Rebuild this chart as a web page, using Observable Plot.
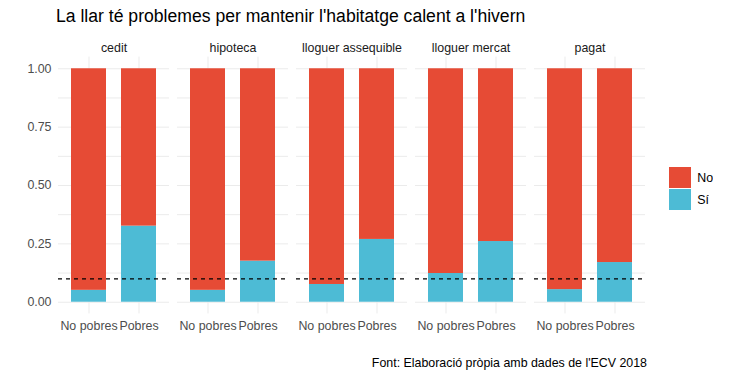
<!DOCTYPE html>
<html>
<head>
<meta charset="utf-8">
<script src="https://cdn.jsdelivr.net/npm/d3@7"></script>
<script src="https://cdn.jsdelivr.net/npm/@observablehq/plot@0.6"></script>
<style>
  body { margin: 0; background: #fff; font-family: "Liberation Sans", Arial, sans-serif; }
  #wrap { position: relative; width: 733px; height: 378px; overflow: hidden; }
  #title { position: absolute; left: 56px; top: 6px; font-size: 17.6px; color: #000; white-space: nowrap; }
  #chart { position: absolute; left: 0; top: 30px; }
  #legend { position: absolute; left: 669px; top: 167px; }
  #caption { position: absolute; right: 86px; top: 356px; font-size: 12.4px; color: #000; white-space: nowrap; }
</style>
</head>
<body>
<div id="wrap">
  <div id="title">La llar té problemes per mantenir l'habitatge calent a l'hivern</div>
  <div id="chart"></div>
  <div id="legend"></div>
  <div id="caption">Font: Elaboració pròpia amb dades de l'ECV 2018</div>
</div>
<script>
const tenures = ["cedit", "hipoteca", "lloguer assequible", "lloguer mercat", "pagat"];
const groups = ["No pobres", "Pobres"];
const answers = ["No", "Sí"];
// share answering "Sí" per tenure, [No pobres, Pobres]
const siValues = [
  [0.051, 0.326],
  [0.051, 0.176],
  [0.076, 0.269],
  [0.123, 0.260],
  [0.054, 0.170]
];
// share answering "No" per tenure, [No pobres, Pobres]
const noValues = [
  [0.949, 0.674],
  [0.949, 0.824],
  [0.924, 0.731],
  [0.877, 0.740],
  [0.946, 0.830]
];
const threshold = 0.10;
const yTicks = [0, 0.25, 0.5, 0.75, 1];
const yGrid = [0, 0.125, 0.25, 0.375, 0.5, 0.625, 0.75, 0.875, 1];
const colors = ["#E64B35", "#4DBBD5"];

const data = [];
tenures.forEach((t, i) => {
  groups.forEach((g, j) => {
    data.push({tenure: t, group: g, answer: "Sí", value: siValues[i][j]});
    data.push({tenure: t, group: g, answer: "No", value: noValues[i][j]});
  });
});

const font = "'Liberation Sans', Arial, sans-serif";

const chart = Plot.plot({
  width: 733,
  height: 310,
  marginLeft: 56,
  marginRight: 86,
  marginTop: 26.6,
  marginBottom: 26.6,
  style: {fontFamily: font, fontSize: "12.4px", background: "transparent"},
  fx: {domain: tenures, paddingInner: 0.067, paddingOuter: 0, label: null},
  x: {domain: groups, paddingInner: 0.3, paddingOuter: 0.25, align: 0.5, label: null},
  y: {domain: [-0.05, 1.05], label: null},
  color: {domain: answers, range: colors},
  marks: [
    Plot.gridY(yGrid, {stroke: "#ebebeb", strokeOpacity: 1, strokeWidth: 1}),
    Plot.gridX({stroke: "#ebebeb", strokeOpacity: 1, strokeWidth: 1}),
    Plot.barY(data, {fx: "tenure", x: "group", y: "value", fill: "answer"}),
    Plot.ruleY([threshold], {stroke: "#000", strokeWidth: 1.1, strokeDasharray: "4,4"}),
    Plot.axisY(yTicks, {tickSize: 0, tickPadding: 7, tickFormat: d3.format(".2f"), fill: "#4d4d4d", label: null}),
    Plot.axisX({tickSize: 0, tickPadding: 7, fill: "#4d4d4d", label: null}),
    Plot.axisFx({anchor: "top", tickSize: 0, tickPadding: 5, fill: "#1a1a1a", label: null})
  ]
});
document.getElementById("chart").appendChild(chart);

const legend = Plot.legend({
  color: {domain: answers, range: colors},
  swatchWidth: 22,
  swatchHeight: 21,
  columns: 1,
  style: {fontFamily: font, fontSize: "12.4px", color: "#000", margin: 0}
});
document.getElementById("legend").appendChild(legend);
</script>
</body>
</html>
